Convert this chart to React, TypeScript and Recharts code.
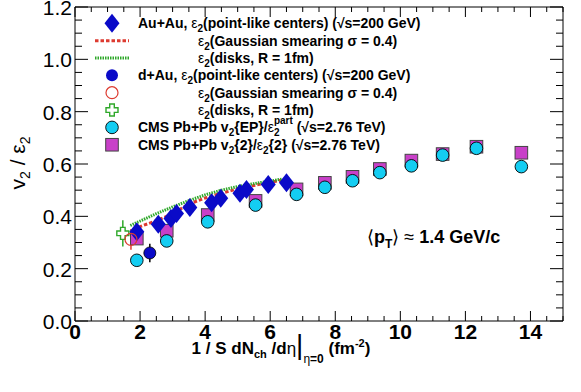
import React from "react";
import { ComposedChart, Scatter, Line, XAxis, YAxis, ErrorBar } from "recharts";

// Au+Au, point-like centers
const auAuPoint = [
  { x: 1.9, y: 0.341 }, { x: 2.56, y: 0.37 }, { x: 2.95, y: 0.392 }, { x: 3.12, y: 0.411 },
  { x: 3.53, y: 0.434 }, { x: 4.2, y: 0.452 }, { x: 4.48, y: 0.469 }, { x: 5.07, y: 0.488 },
  { x: 5.27, y: 0.503 }, { x: 5.94, y: 0.522 }, { x: 6.5, y: 0.528 },
];
// Au+Au, Gaussian smearing (curve)
const auAuGauss = [
  { x: 1.8, y: 0.352 }, { x: 2.5, y: 0.383 }, { x: 3.0, y: 0.41 }, { x: 3.5, y: 0.447 },
  { x: 4.0, y: 0.47 }, { x: 4.5, y: 0.488 }, { x: 5.0, y: 0.505 }, { x: 5.5, y: 0.518 },
  { x: 6.0, y: 0.53 }, { x: 6.35, y: 0.538 },
];
// Au+Au, disks (curve)
const auAuDisk = [
  { x: 1.7, y: 0.365 }, { x: 2.5, y: 0.41 }, { x: 3.0, y: 0.436 }, { x: 3.5, y: 0.46 },
  { x: 4.0, y: 0.482 }, { x: 4.5, y: 0.5 }, { x: 5.0, y: 0.514 }, { x: 5.5, y: 0.525 },
  { x: 6.0, y: 0.535 }, { x: 6.35, y: 0.542 },
];
// d+Au
const dAuPoint = [{ x: 2.3, y: 0.26, e: 0.035 }];
const dAuGauss = [{ x: 1.72, y: 0.312, e: 0.04 }];
const dAuDisk = [{ x: 1.47, y: 0.335, e: 0.05 }];
// CMS Pb+Pb
const cmsEP = [
  { x: 1.9, y: 0.232 }, { x: 2.82, y: 0.306 }, { x: 4.08, y: 0.379 }, { x: 5.55, y: 0.443 },
  { x: 6.81, y: 0.484 }, { x: 7.68, y: 0.511 }, { x: 8.53, y: 0.536 }, { x: 9.37, y: 0.567 },
  { x: 10.34, y: 0.593 }, { x: 11.3, y: 0.634 }, { x: 12.34, y: 0.66 }, { x: 13.72, y: 0.59 },
];
const cms2 = [
  { x: 1.9, y: 0.315 }, { x: 2.82, y: 0.345 }, { x: 4.08, y: 0.405 }, { x: 5.55, y: 0.459 },
  { x: 6.81, y: 0.503 }, { x: 7.68, y: 0.528 }, { x: 8.53, y: 0.551 }, { x: 9.37, y: 0.581 },
  { x: 10.34, y: 0.613 }, { x: 11.3, y: 0.638 }, { x: 12.34, y: 0.666 }, { x: 13.72, y: 0.643 },
];

const xLabels = [0, 2, 4, 6, 8, 10, 12, 14];
const yLabels = [0, 0.2, 0.4, 0.6, 0.8, 1.0, 1.2];
const xTicks = Array.from({ length: 31 }, (_, i) => i * 0.5);
const yTicks = Array.from({ length: 25 }, (_, i) => i * 0.05);

const BLUE = "#0a0ac8";
const CYAN = "#14cdf2";
const MAGENTA = "#c840c8";
const RED = "#dd3b30";
const GREEN = "#2fa82a";
const FONT = "'Liberation Sans', Arial, sans-serif";

const isXMajor = (v: number) => xLabels.some((l) => Math.abs(l - v) < 1e-6);
const isYMajor = (v: number) => yLabels.some((l) => Math.abs(l - v) < 1e-6);

const BottomTick = ({ x, y, payload }: any) => {
  const major = isXMajor(payload.value);
  return (
    <g>
      <line x1={x} x2={x} y1={y} y2={y - (major ? 10 : 5)} stroke="#000" />
      {major && (
        <text x={x} y={y + 18} textAnchor="middle" fontSize={21} fontWeight="bold" fontFamily={FONT} fill="#000">
          {Math.round(payload.value)}
        </text>
      )}
    </g>
  );
};
const TopTick = ({ x, y, payload }: any) => (
  <line x1={x} x2={x} y1={y} y2={y + (isXMajor(payload.value) ? 10 : 5)} stroke="#000" />
);
const LeftTick = ({ x, y, payload }: any) => {
  const major = isYMajor(payload.value);
  return (
    <g>
      <line x1={x} x2={x + (major ? 13 : 7)} y1={y} y2={y} stroke="#000" />
      {major && (
        <text x={x - 3} y={y + 8} textAnchor="end" fontSize={21} fontFamily={FONT} fill="#000">
          {(Math.round(payload.value * 10) / 10).toFixed(1)}
        </text>
      )}
    </g>
  );
};
const RightTick = ({ x, y, payload }: any) => (
  <line x1={x} x2={x - (isYMajor(payload.value) ? 13 : 7)} y1={y} y2={y} stroke="#000" />
);

const diamond = (cx: number, cy: number) =>
  `${cx},${cy - 9.5} ${cx + 7.5},${cy} ${cx},${cy + 9.5} ${cx - 7.5},${cy}`;
const cross = (cx: number, cy: number, a = 6, t = 2.3) =>
  [
    [-t, -a], [t, -a], [t, -t], [a, -t], [a, t], [t, t],
    [t, a], [-t, a], [-t, t], [-a, t], [-a, -t], [-t, -t],
  ].map(([dx, dy]) => `${cx + dx},${cy + dy}`).join(" ");

const DiamondShape = (p: any) => <polygon points={diamond(p.cx, p.cy)} fill={BLUE} />;
const BlueCircle = (p: any) => <circle cx={p.cx} cy={p.cy} r={6} fill={BLUE} stroke="#000" strokeWidth={0.8} />;
const RedCircle = (p: any) => <circle cx={p.cx} cy={p.cy} r={6} fill="none" stroke={RED} strokeWidth={1.2} />;
const GreenCross = (p: any) => <polygon points={cross(p.cx, p.cy)} fill="#fff" stroke={GREEN} strokeWidth={1.4} />;
const CyanCircle = (p: any) => <circle cx={p.cx} cy={p.cy} r={6.3} fill={CYAN} stroke="#000" strokeWidth={0.9} />;
const MagentaSquare = (p: any) => (
  <rect x={p.cx - 6.3} y={p.cy - 6.3} width={12.6} height={12.6} fill={MAGENTA} stroke="#444" strokeWidth={1} />
);

const rowY = (i: number) => 23.3 + 17.35 * i;

// ε with subscript 2, then the rest of the line back on the baseline
const Eps = ({ rest, sup }: { rest: string; sup?: string }) => (
  <>
    <tspan fontWeight="normal">ε</tspan>
    <tspan fontSize={10} dy={4}>2</tspan>
    {sup ? (
      <>
        <tspan fontSize={10} dx={-5.6} dy={-12}>{sup}</tspan>
        <tspan dy={8}>{rest}</tspan>
      </>
    ) : (
      <tspan dy={-4}>{rest}</tspan>
    )}
  </>
);

const LegendOverlay = () => (
  <svg width={581} height={392} style={{ position: "absolute", left: 0, top: 0, pointerEvents: "none" }}>
    <g fontFamily={FONT} fontWeight="bold" fontSize={14} fill="#000">
      <polygon points={diamond(112, rowY(0))} fill={BLUE} />
      <text x={138} y={rowY(0) + 5}>
        <tspan>Au+Au, </tspan>
        <Eps rest="(point-like centers) (√s=200 GeV)" />
      </text>
      <line x1={95} x2={129} y1={rowY(1)} y2={rowY(1)} stroke={RED} strokeWidth={3} strokeDasharray="3.5 2" />
      <text x={198} y={rowY(1) + 5}>
        <Eps rest="(Gaussian smearing σ = 0.4)" />
      </text>
      <line x1={95} x2={129} y1={rowY(2)} y2={rowY(2)} stroke={GREEN} strokeWidth={3} strokeDasharray="1.5 1" />
      <text x={198} y={rowY(2) + 5}>
        <Eps rest="(disks, R = 1fm)" />
      </text>
      <circle cx={112} cy={rowY(3)} r={6} fill={BLUE} />
      <text x={138} y={rowY(3) + 5}>
        <tspan>d+Au, </tspan>
        <Eps rest="(point-like centers) (√s=200 GeV)" />
      </text>
      <circle cx={112} cy={rowY(4)} r={6} fill="none" stroke={RED} strokeWidth={1.2} />
      <text x={198} y={rowY(4) + 5}>
        <Eps rest="(Gaussian smearing σ = 0.4)" />
      </text>
      <polygon points={cross(112, rowY(5))} fill="#fff" stroke={GREEN} strokeWidth={1.4} />
      <text x={198} y={rowY(5) + 5}>
        <Eps rest="(disks, R = 1fm)" />
      </text>
      <circle cx={112} cy={rowY(6)} r={6.3} fill={CYAN} stroke="#000" strokeWidth={0.9} />
      <text x={138} y={rowY(6) + 5}>
        <tspan>CMS Pb+Pb v</tspan>
        <tspan fontSize={10} dy={4}>2</tspan>
        <tspan dy={-4}>{"{EP}/"}</tspan>
        <Eps sup="part" rest=" (√s=2.76 TeV)" />
      </text>
      <rect x={105.7} y={rowY(7) - 6.3} width={12.6} height={12.6} fill={MAGENTA} stroke="#444" />
      <text x={138} y={rowY(7) + 5}>
        <tspan>CMS Pb+Pb v</tspan>
        <tspan fontSize={10} dy={4}>2</tspan>
        <tspan dy={-4}>{"{2}/"}</tspan>
        <Eps rest="{2} (√s=2.76 TeV)" />
      </text>
    </g>
    <text x={367} y={243} fontFamily={FONT} fontWeight="bold" fontSize={18} fill="#000">
      <tspan fontWeight="normal">⟨</tspan>
      <tspan>p</tspan>
      <tspan fontSize={12} dy={5}>T</tspan>
      <tspan dy={-5} fontWeight="normal">{"⟩ ≈ "}</tspan>
      <tspan>1.4 GeV/c</tspan>
    </text>
    <text x={25} y={163} transform="rotate(-90 25 163)" textAnchor="middle" fontFamily={FONT} fontSize={21} fill="#000">
      <tspan>v</tspan>
      <tspan fontSize={14} dy={5}>2</tspan>
      <tspan dy={-5}>{" / ε"}</tspan>
      <tspan fontSize={14} dy={5}>2</tspan>
    </text>
    <text x={281} y={354} textAnchor="middle" fontFamily={FONT} fontWeight="bold" fontSize={17} fill="#000">
      <tspan>1 / S dN</tspan>
      <tspan fontSize={11} dy={4}>ch</tspan>
      <tspan dy={-4}>{" /d"}</tspan>
      <tspan fontWeight="normal">η</tspan>
      <tspan fontWeight="normal" fontSize={28}>|</tspan>
      <tspan fontSize={12} dy={9} fontWeight="normal">η</tspan>
      <tspan fontSize={12}>=0</tspan>
      <tspan dy={-9}>{" (fm"}</tspan>
      <tspan fontSize={11} dy={-7}>-2</tspan>
      <tspan dy={7}>)</tspan>
    </text>
  </svg>
);

export default function App() {
  return (
    <div style={{ position: "absolute", left: 0, top: 0, width: 581, height: 392, background: "#fff" }}>
      <ComposedChart width={581} height={392} margin={{ top: 6, right: 17, bottom: 0, left: 0 }}>
        <XAxis
          type="number"
          dataKey="x"
          domain={[0, 15]}
          ticks={xTicks}
          interval={0}
          height={71}
          tickSize={0}
          tickMargin={0}
          tick={BottomTick}
          axisLine={{ stroke: "#000" }}
          allowDataOverflow
        />
        <XAxis
          xAxisId="top"
          orientation="top"
          type="number"
          dataKey="x"
          domain={[0, 15]}
          ticks={xTicks}
          interval={0}
          height={1}
          tickSize={0}
          tickMargin={0}
          tick={TopTick}
          axisLine={{ stroke: "#000" }}
          allowDataOverflow
        />
        <YAxis
          type="number"
          dataKey="y"
          domain={[0, 1.2]}
          ticks={yTicks}
          interval={0}
          width={75}
          tickSize={0}
          tickMargin={0}
          tick={LeftTick}
          axisLine={{ stroke: "#000" }}
          allowDataOverflow
        />
        <YAxis
          yAxisId="right"
          orientation="right"
          type="number"
          dataKey="y"
          domain={[0, 1.2]}
          ticks={yTicks}
          interval={0}
          width={1}
          tickSize={0}
          tickMargin={0}
          tick={RightTick}
          axisLine={{ stroke: "#000" }}
          allowDataOverflow
        />
        <Line data={auAuGauss} dataKey="y" type="linear" dot={false} stroke={RED} strokeWidth={3} strokeDasharray="3.5 2" isAnimationActive={false} />
        <Line data={auAuDisk} dataKey="y" type="linear" dot={false} stroke={GREEN} strokeWidth={3} strokeDasharray="1.5 1" isAnimationActive={false} />
        <Scatter data={cms2} shape={MagentaSquare} isAnimationActive={false} />
        <Scatter data={cmsEP} shape={CyanCircle} isAnimationActive={false} />
        <Scatter data={auAuPoint} shape={DiamondShape} isAnimationActive={false} />
        <Scatter data={dAuDisk} shape={GreenCross} isAnimationActive={false}>
          <ErrorBar dataKey="e" direction="y" width={0} stroke={GREEN} strokeWidth={1.5} />
        </Scatter>
        <Scatter data={dAuGauss} shape={RedCircle} isAnimationActive={false}>
          <ErrorBar dataKey="e" direction="y" width={0} stroke={RED} strokeWidth={1.5} />
        </Scatter>
        <Scatter data={dAuPoint} shape={BlueCircle} isAnimationActive={false}>
          <ErrorBar dataKey="e" direction="y" width={0} stroke="#000" strokeWidth={1.5} />
        </Scatter>
      </ComposedChart>
      <LegendOverlay />
    </div>
  );
}
